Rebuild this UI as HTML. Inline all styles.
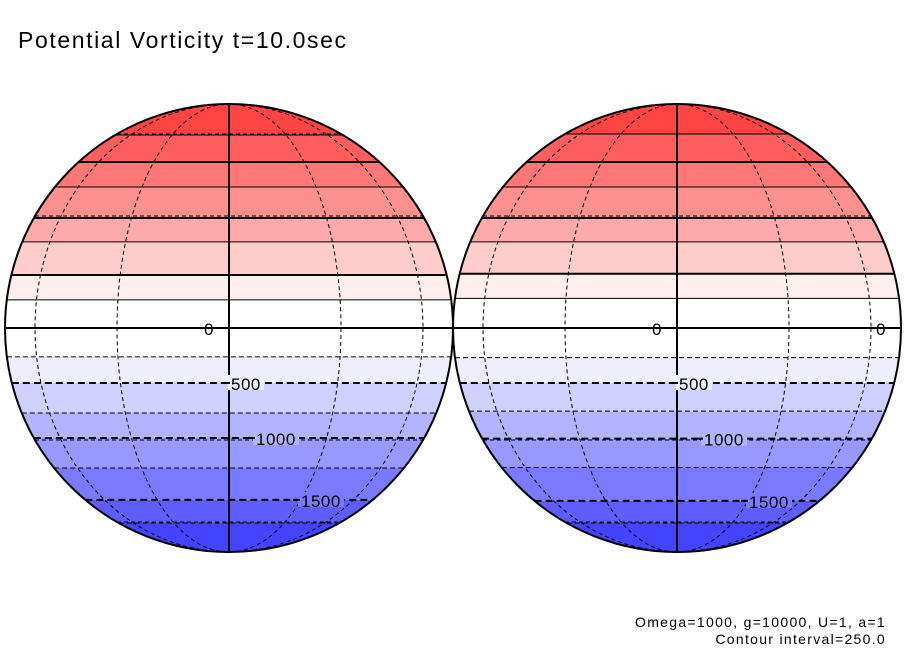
<!DOCTYPE html>
<html><head><meta charset="utf-8"><style>
html,body{margin:0;padding:0;background:#fff;}
svg{display:block;font-family:"Liberation Sans",sans-serif;}
</style></head><body>
<svg id="chart" width="904" height="654" viewBox="0 0 904 654">
<text x="18" y="48" font-size="23" letter-spacing="1.6" fill="#000">Potential Vorticity t=10.0sec</text>
<text x="886" y="627" font-size="14" letter-spacing="1.3" text-anchor="end">Omega=1000, g=10000, U=1, a=1</text>
<text x="886" y="644" font-size="14" letter-spacing="1.3" text-anchor="end">Contour interval=250.0</text>
</svg>
<script>
const levels = [-1750,-1500,-1250,-1000,-750,-500,-250,0,250,500,750,1000,1250,1500,1750];
const latsLeft = [-60.5,-50.1,-38.7,-29.4,-22.3,-14.2,-7.4,0,7.2,13.7,22.6,29.4,39,47.8,59.5];
const latsRight = [-60.5,-50.5,-38.5,-29.6,-21.8,-14.2,-7.6,0,7.6,14,22.6,29.4,39,47.8,60];
const labelLevels = [0,500,1000,1500];
const bandColors = ['#4444ff','#5e5eff','#7a7aff','#9898ff','#b3b3ff','#d0d0ff','#eeeeff','#ffffff','#ffffff','#ffeeee','#ffcccc','#ffaaaa','#ff9090','#ff7777','#ff5e5e','#ff4444'];

const NS='http://www.w3.org/2000/svg';
const svg=document.getElementById('chart');
function mk(tag,attrs,parent){const e=document.createElementNS(NS,tag);for(const k in attrs)e.setAttribute(k,attrs[k]);(parent||svg).appendChild(e);return e;}

function drawGlobe(cx,cy,r,lats,id,extraZero){
  const yOf=lat=>cy-r*Math.sin(lat*Math.PI/180);
  const g=mk('g',{});
  
  
  const cp=mk('clipPath',{id:'clip-'+id},g);
  mk('circle',{cx:cx,cy:cy,r:r},cp);
  const inner=mk('g',{'clip-path':'url(#clip-'+id+')'},g);
  const bounds=[-90].concat(lats).concat([90]);
  for(let i=0;i<bounds.length-1;i++){
    const y1=yOf(bounds[i+1]),y0=yOf(bounds[i]);
    const b=mk('rect',{x:cx-r,y:y1,width:2*r,height:y0-y1,fill:bandColors[i]},inner);
    
    
  }
  [30,60].forEach(lon=>{
    const rx=r*Math.sin(lon*Math.PI/180);
    const m=mk('ellipse',{cx:cx,cy:cy,rx:rx,ry:r,fill:'none',stroke:'#000','stroke-width':1,'stroke-dasharray':'4,3'},inner);
    
    
  });
  [-60,-30,30,60].forEach(lat=>{
    const y=yOf(lat),hw=r*Math.cos(lat*Math.PI/180);
    const p=mk('line',{x1:cx-hw,x2:cx+hw,y1:y,y2:y,stroke:'#000','stroke-width':1,'stroke-dasharray':'4,3'},inner);
    
    
  });
  levels.forEach((lv,i)=>{
    const y=yOf(lats[i]);const hw=Math.sqrt(Math.max(0,r*r-(y-cy)*(y-cy)));
    const thick=lv%500===0;
    const a={x1:cx-hw,x2:cx+hw,y1:y,y2:y,stroke:'#000','stroke-width':thick?2:1};
    if(lv<0)a['stroke-dasharray']=thick?'7,4':'5,3';
    const c=mk('line',a,inner);
    
    
  });
  const cm=mk('line',{x1:cx,x2:cx,y1:cy-r,y2:cy+r,stroke:'#000','stroke-width':2},g);
  
  
  const o=mk('circle',{cx:cx,cy:cy,r:r,fill:'none',stroke:'#000','stroke-width':2},g);
  
  
  const xOff={0:-25,500:2,1000:27,1500:72};
  labelLevels.forEach(lv=>{
    const i=levels.indexOf(-lv);
    const y=yOf(lats[i]);
    const xx=cx+xOff[lv];
    if(lv>0){mk('rect',{x:xx-3,y:y-8,width:lv>=1000?46:36,height:15,fill:bandColors[i+1]},g);
      mk('line',{x1:xx-8,x2:xx-1,y1:y,y2:y,stroke:'#000','stroke-width':2},g);}
    const t=mk('text',{x:xx,y:y+(lv===0?7:7),'font-size':17,'letter-spacing':0.5},g);
    t.textContent=String(lv);
    
    
  });
  if(extraZero){
    const t=mk('text',{x:cx+r-25,y:cy+7,'font-size':17},g);
    t.textContent='0';
    
    
  }
}
drawGlobe(229,328,224,latsLeft,'left',false);
drawGlobe(677,328,224,latsRight,'right',true);
</script>
</body></html>
